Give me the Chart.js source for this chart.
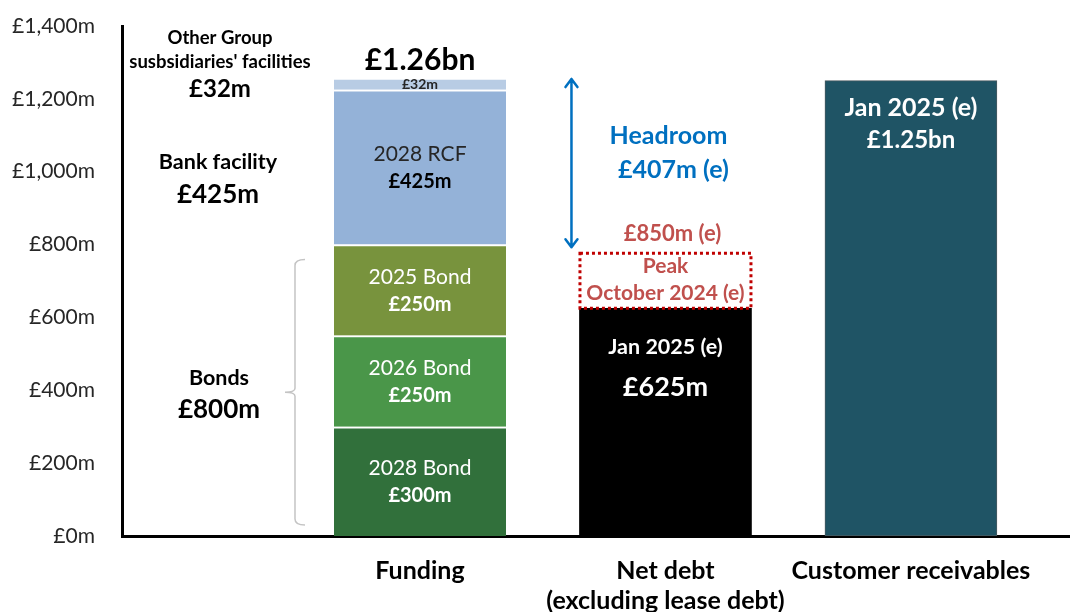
<!DOCTYPE html>
<html><head><meta charset="utf-8">
<script src="https://cdn.jsdelivr.net/npm/chart.js@4"></script>
<style>html,body{margin:0;padding:0;background:#fff;overflow:hidden}#wrap{width:1070px;height:612px}</style>
</head><body><div id="wrap"><canvas id="c" width="1070" height="612"></canvas></div>
<script>
// ---- data ----
const categoryLabels = [['Funding'], ['Net debt', '(excluding lease debt)'], ['Customer receivables']];
const fundingSegments = ['2028 Bond', '2026 Bond', '2025 Bond', '2028 RCF', "Other Group susbsidiaries' facilities"];
const fundingValues = [300, 250, 250, 425, 32];
const fundingValueLabels = ['£300m', '£250m', '£250m', '£425m', '£32m'];
const fundingColors = ['#31703B', '#4A9649', '#78933D', '#94B2D8', '#B8CCE4'];
const fundingTotalLabel = '£1.26bn';
const netDebtValue = 625;
const netDebtLabels = ['Jan 2025 (e)', '£625m'];
const peakRange = [625, 780];
const peakLabels = ['£850m (e)', 'Peak', 'October 2024 (e)'];
const receivablesValue = 1250;
const receivablesLabels = ['Jan 2025 (e)', '£1.25bn'];
const headroomRange = [790, 1257];
const headroomLabels = ['Headroom', '£407m (e)'];
const sideLabelsOther = ['Other Group', "susbsidiaries' facilities", '£32m'];
const sideLabelsBank = ['Bank facility', '£425m'];
const sideLabelsBonds = ['Bonds', '£800m'];
const yTickValues = [0, 200, 400, 600, 800, 1000, 1200, 1400];

const FONT = 'Lato, "Open Sans", sans-serif';

const datasets = fundingValues.map((v, i) => ({
  label: fundingSegments[i],
  data: [{x: 1, y: v}],
  backgroundColor: fundingColors[i],
  borderColor: '#ffffff',
  borderWidth: {top: 2, left: 0, right: 0, bottom: 0},
  borderSkipped: false
}));
datasets.push({label: 'Net debt', data: [{x: 2, y: netDebtValue}], backgroundColor: '#000000', borderWidth: 0});
datasets.push({label: 'Customer receivables', data: [{x: 3, y: receivablesValue}], backgroundColor: '#1F5465',
  borderColor: '#4a5a60', borderWidth: 1, borderSkipped: false});

const annot = {
  id: 'annot',
  afterDatasetsDraw(chart) {
    const ctx = chart.ctx, ys = chart.scales.y;
    const txt = (s, px, py, size, weight, color) => {
      ctx.font = `${weight} ${size}px ${FONT}`;
      ctx.fillStyle = color; ctx.textAlign = 'center'; ctx.textBaseline = 'middle';
      ctx.fillText(s, px, py);
    };
    ctx.save();
    // funding segments
    let topEl = null;
    fundingValues.forEach((v, i) => {
      const el = chart.getDatasetMeta(i).data[0];
      const cy = (el.y + el.base) / 2;
      if (i === fundingValues.length - 1) {
        txt(fundingValueLabels[i], el.x, cy + 1, 14, 'bold', '#262626');
        topEl = el;
      } else {
        const dark = i === 3;
        txt(fundingSegments[i], el.x, cy - 13, 21, 'normal', dark ? '#262626' : '#ffffff');
        txt(fundingValueLabels[i], el.x, cy + 14, 20, 'bold', dark ? '#000000' : '#ffffff');
      }
    });
    txt(fundingTotalLabel, topEl.x, topEl.y - 18, 30, 'bold', '#000000');

    const fEl = chart.getDatasetMeta(0).data[0];
    const fLeft = fEl.x - fEl.width / 2;
    // side labels
    const sx = fLeft - 115;
    const yOther = ys.getPixelForValue(1257);
    txt(sideLabelsOther[0], sx + 1, yOther - 40, 18.5, 'bold', '#000');
    txt(sideLabelsOther[1], sx + 1, yOther - 16, 18.5, 'bold', '#000');
    txt(sideLabelsOther[2], sx + 1, yOther + 11, 24, 'bold', '#000');
    const yBank = ys.getPixelForValue(800 + 425 / 2);
    txt(sideLabelsBank[0], sx - 1, yBank - 5, 21.5, 'bold', '#000');
    txt(sideLabelsBank[1], sx - 1, yBank + 27, 26, 'bold', '#000');
    // bracket
    const bx = fLeft - 39;
    const bTop = ys.getPixelForValue(800) + 15, bBot = ys.getPixelForValue(0) - 11, bMid = (bTop + bBot) / 2;
    ctx.strokeStyle = '#C4C4C4'; ctx.lineWidth = 1.5;
    ctx.beginPath();
    ctx.moveTo(bx + 10, bTop); ctx.quadraticCurveTo(bx, bTop, bx, bTop + 6);
    ctx.lineTo(bx, bMid - 4); ctx.quadraticCurveTo(bx, bMid, bx - 10, bMid);
    ctx.moveTo(bx - 10, bMid); ctx.quadraticCurveTo(bx, bMid, bx, bMid + 4);
    ctx.lineTo(bx, bBot - 6); ctx.quadraticCurveTo(bx, bBot, bx + 10, bBot);
    ctx.stroke();
    txt(sideLabelsBonds[0], sx, bMid - 14, 21.5, 'bold', '#000');
    txt(sideLabelsBonds[1], sx, bMid + 17, 26, 'bold', '#000');

    // net debt
    const nEl = chart.getDatasetMeta(5).data[0];
    txt(netDebtLabels[0], nEl.x, nEl.y + 39, 21.5, 'bold', '#ffffff');
    txt(netDebtLabels[1], nEl.x, nEl.y + 79, 27, 'bold', '#ffffff');
    // peak box
    const nL = nEl.x - nEl.width / 2 - 1, nR = nEl.x + nEl.width / 2 + 1;
    const pTop = ys.getPixelForValue(peakRange[1]), pBot = ys.getPixelForValue(peakRange[0]);
    ctx.strokeStyle = '#C00000'; ctx.lineWidth = 3; ctx.setLineDash([3, 3]);
    ctx.strokeRect(nL + 1.5, pTop + 1.5, nR - nL - 3, pBot - pTop - 1.5);
    ctx.setLineDash([]);
    txt(peakLabels[0], nEl.x + 7, pTop - 18, 22, 'bold', '#C0504D');
    txt(peakLabels[1], nEl.x, (pTop + pBot) / 2 - 14, 21, 'bold', '#C0504D');
    txt(peakLabels[2], nEl.x, (pTop + pBot) / 2 + 13, 21, 'bold', '#C0504D');
    // headroom arrow
    const ax = nL - 7;
    const aTop = ys.getPixelForValue(headroomRange[1]), aBot = ys.getPixelForValue(headroomRange[0]);
    ctx.strokeStyle = '#0070C0'; ctx.lineWidth = 2.5; ctx.lineCap = 'round'; ctx.lineJoin = 'round';
    ctx.beginPath();
    ctx.moveTo(ax, aTop + 1); ctx.lineTo(ax, aBot - 1);
    ctx.moveTo(ax - 6, aTop + 9); ctx.lineTo(ax, aTop + 1); ctx.lineTo(ax + 6, aTop + 9);
    ctx.moveTo(ax - 6, aBot - 9); ctx.lineTo(ax, aBot - 1); ctx.lineTo(ax + 6, aBot - 9);
    ctx.stroke();
    txt(headroomLabels[0], nEl.x + 3, aTop + 58, 25, 'bold', '#0070C0');
    txt(headroomLabels[1], nEl.x + 8, aTop + 92, 25, 'bold', '#0070C0');

    // receivables
    const rEl = chart.getDatasetMeta(6).data[0];
    txt(receivablesLabels[0], rEl.x, rEl.y + 27, 25, 'bold', '#ffffff');
    txt(receivablesLabels[1], rEl.x, rEl.y + 60, 24, 'bold', '#ffffff');
    ctx.restore();
  }
};

new Chart(document.getElementById('c'), {
  type: 'bar',
  data: {datasets},
  plugins: [annot],
  options: {
    responsive: false,
    animation: false,
    layout: {padding: {top: 26, left: 0, right: 0, bottom: 0}},
    plugins: {legend: {display: false}, tooltip: {enabled: false}},
    datasets: {bar: {barThickness: 172}},
    scales: {
      x: {
        type: 'linear', min: -0.214, max: 3.648, offset: false, stacked: true,
        grid: {display: false, drawTicks: false, offset: false},
        border: {display: true, color: '#000000', width: 3},
        afterBuildTicks: s => { s.ticks = categoryLabels.map((_, i) => ({value: i + 1})); },
        afterFit: s => { s.height = 76; s.paddingLeft = 0; s.paddingRight = 0; },
        ticks: {autoSkip: false, maxRotation: 0, padding: 20, color: '#000000',
          font: {family: FONT, weight: 'bold', size: 25, lineHeight: 1.2},
          callback: v => categoryLabels[v - 1]}
      },
      y: {
        stacked: true, min: 0, max: 1400,
        grid: {display: false, drawTicks: false},
        border: {display: true, color: '#000000', width: 3},
        afterBuildTicks: s => { s.ticks = yTickValues.map(v => ({value: v})); },
        afterFit: s => {
          s.width = 122; s.paddingTop = 0; s.paddingBottom = 0;
          if (s._margins) { s._margins.top = 0; s._margins.bottom = 0; }
        },
        ticks: {padding: 27, color: '#262626', font: {family: FONT, size: 21},
          callback: v => '£' + v.toLocaleString('en-GB') + 'm'}
      }
    }
  }
});
</script></body></html>
